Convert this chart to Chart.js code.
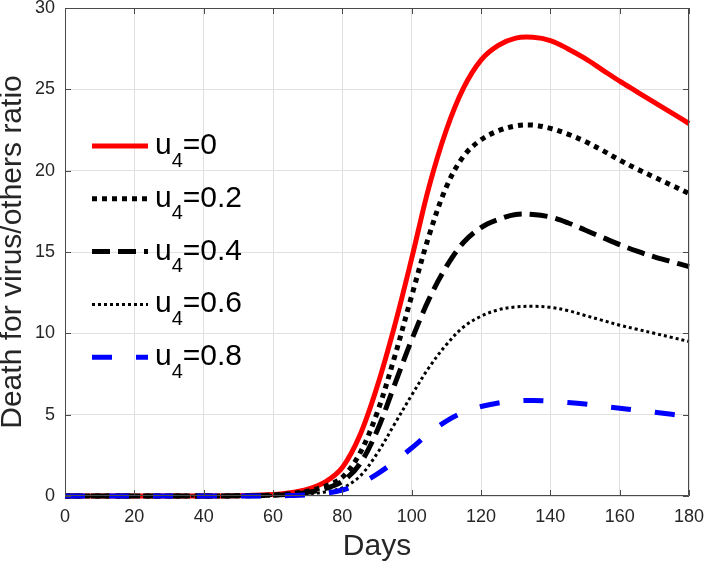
<!DOCTYPE html>
<html>
<head>
<meta charset="utf-8">
<script src="https://cdn.jsdelivr.net/npm/chart.js@4/dist/chart.umd.min.js"></script>
<style>
  html, body { margin: 0; padding: 0; background: #fff; }
</style>
</head>
<body>
<canvas id="grafico" width="708" height="568"></canvas>
<script>
// dias e curvas
const days = [0, 10, 20, 30, 40, 50, 55, 60, 65, 70, 75, 80, 85, 90, 95, 100, 105, 110, 115, 120, 125, 130, 135, 140, 145, 150, 155, 160, 165, 170, 175, 180];
const u4_00 = [0, 0, 0, 0, 0, 0.02, 0.05, 0.09, 0.2, 0.42, 0.85, 1.75, 3.7, 6.7, 10.4, 14.6, 19.0, 22.5, 25.1, 26.8, 27.7, 28.15, 28.2, 28.0, 27.5, 26.9, 26.2, 25.5, 24.85, 24.2, 23.55, 22.9];
const u4_02 = [0, 0, 0, 0, 0, 0.01, 0.03, 0.06, 0.14, 0.3, 0.6, 1.15, 2.6, 5.1, 8.5, 12.3, 16.0, 19.0, 20.9, 21.9, 22.45, 22.75, 22.8, 22.6, 22.25, 21.8, 21.25, 20.65, 20.1, 19.6, 19.1, 18.6];
const u4_04 = [0, 0, 0, 0, 0, 0.01, 0.02, 0.05, 0.1, 0.22, 0.45, 0.9, 1.95, 4.0, 6.8, 9.6, 12.1, 14.1, 15.6, 16.5, 17.0, 17.3, 17.3, 17.15, 16.8, 16.35, 15.9, 15.45, 15.05, 14.7, 14.4, 14.1];
const u4_06 = [0, 0, 0, 0, 0, 0.005, 0.01, 0.03, 0.06, 0.13, 0.25, 0.5, 1.2, 2.6, 4.4, 6.2, 7.9, 9.3, 10.4, 11.05, 11.45, 11.62, 11.66, 11.6, 11.4, 11.1, 10.8, 10.5, 10.25, 10.0, 9.75, 9.5];
const u4_08 = [0, 0, 0, 0, 0, 0, 0.005, 0.01, 0.03, 0.07, 0.17, 0.37, 0.75, 1.35, 2.1, 2.95, 3.85, 4.6, 5.15, 5.5, 5.72, 5.84, 5.87, 5.83, 5.75, 5.65, 5.52, 5.4, 5.27, 5.15, 5.02, 4.9];

const u4Valores = ['0', '0.2', '0.4', '0.6', '0.8'];
const xTicks = [0, 20, 40, 60, 80, 100, 120, 140, 160, 180];
const yTicks = [0, 5, 10, 15, 20, 25, 30];

const fonte = "'Liberation Sans', Arial, sans-serif";
const corTexto = '#262626';

function pontos(serie) {
  return serie.map((v, i) => ({ x: days[i], y: v }));
}

// legenda desenhada à mão por causa do subscrito (u₄)
const legendaMatlab = {
  id: 'legendaMatlab',
  afterDraw(chart) {
    const ctx = chart.ctx;
    const x0 = 92, x1 = 148, yTopo = 146, passo = 52.8;
    ctx.save();
    chart.data.datasets.forEach((ds, i) => {
      const y = yTopo + i * passo;
      ctx.strokeStyle = ds.borderColor;
      ctx.lineWidth = ds.borderWidth;
      ctx.lineCap = 'butt';
      ctx.setLineDash(ds.borderDash || []);
      ctx.beginPath();
      ctx.moveTo(x0, y);
      ctx.lineTo(x1, y);
      ctx.stroke();
      ctx.setLineDash([]);

      ctx.fillStyle = '#000';
      ctx.textBaseline = 'alphabetic';
      ctx.textAlign = 'left';
      let tx = 155;
      const base = y + 8;
      ctx.font = '30px ' + fonte;
      ctx.fillText('u', tx, base);
      tx += ctx.measureText('u').width;
      ctx.font = '20px ' + fonte;
      ctx.fillText('4', tx, base + 12.5);
      tx += ctx.measureText('4').width;
      ctx.font = '30px ' + fonte;
      ctx.fillText('=' + u4Valores[i], tx, base);
    });
    ctx.restore();
  }
};

// caixa com marcas internas nos quatro lados
const moldura = {
  id: 'moldura',
  afterDatasetsDraw(chart) {
    const { ctx, chartArea: a, scales: { x, y } } = chart;
    ctx.save();
    ctx.strokeStyle = '#4a4a4a';
    ctx.lineWidth = 1;
    ctx.beginPath();
    ctx.rect(a.left + 0.5, a.top + 0.5, a.right - a.left - 1, a.bottom - a.top - 1);
    const t = 6;
    xTicks.forEach(v => {
      const px = Math.round(x.getPixelForValue(v)) + 0.5;
      ctx.moveTo(px, a.bottom); ctx.lineTo(px, a.bottom - t);
      ctx.moveTo(px, a.top); ctx.lineTo(px, a.top + t);
    });
    yTicks.forEach(v => {
      const py = Math.round(y.getPixelForValue(v)) + 0.5;
      ctx.moveTo(a.left, py); ctx.lineTo(a.left + t, py);
      ctx.moveTo(a.right, py); ctx.lineTo(a.right - t, py);
    });
    ctx.stroke();
    ctx.restore();
  }
};

const ctx = document.getElementById('grafico').getContext('2d');
new Chart(ctx, {
  type: 'line',
  data: {
    datasets: [
      { label: 'u4=0', data: pontos(u4_00), borderColor: '#ff0000', borderWidth: 5, order: 4 },
      { label: 'u4=0.2', data: pontos(u4_02), borderColor: '#000000', borderWidth: 5, borderDash: [5, 5], order: 3 },
      { label: 'u4=0.4', data: pontos(u4_04), borderColor: '#000000', borderWidth: 5, borderDash: [18, 8], order: 2 },
      { label: 'u4=0.6', data: pontos(u4_06), borderColor: '#000000', borderWidth: 3, borderDash: [3, 3], order: 1 },
      { label: 'u4=0.8', data: pontos(u4_08), borderColor: '#0000ff', borderWidth: 5, borderDash: [20, 24], order: 0 }
    ]
  },
  options: {
    responsive: false,
    animation: false,
    devicePixelRatio: 1,
    layout: { padding: { top: 8, right: 19, left: 0, bottom: 0 } },
    elements: {
      point: { radius: 0 },
      line: { tension: 0.35, fill: false, borderCapStyle: 'butt' }
    },
    datasets: { line: { clip: 8 } },
    scales: {
      x: {
        type: 'linear',
        min: 0, max: 180,
        afterBuildTicks: s => { s.ticks = xTicks.map(v => ({ value: v })); },
        afterFit: s => { s.height = 72; s.paddingLeft = 0; s.paddingRight = 0; },
        grid: { color: '#e0e0e0', drawTicks: false },
        border: { display: false },
        ticks: { color: corTexto, font: { family: fonte, size: 18 }, padding: 10, maxRotation: 0 },
        title: { display: true, text: 'Days', color: corTexto, font: { family: fonte, size: 30 }, padding: { top: 0, bottom: 3 } }
      },
      y: {
        min: 0, max: 30,
        afterBuildTicks: s => { s.ticks = yTicks.map(v => ({ value: v })); },
        afterFit: s => { s.width = 65; s.paddingTop = 0; s.paddingBottom = 0; },
        grid: { color: '#e0e0e0', drawTicks: false },
        border: { display: false },
        ticks: { color: corTexto, font: { family: fonte, size: 18 }, padding: 10 },
        title: { display: true, text: 'Death for virus/others ratio', color: corTexto, font: { family: fonte, size: 30, lineHeight: 1 }, padding: { top: -2, bottom: 0 } }
      }
    },
    plugins: {
      legend: { display: false },
      tooltip: { enabled: false }
    }
  },
  plugins: [moldura, legendaMatlab]
});
</script>
</body>
</html>
